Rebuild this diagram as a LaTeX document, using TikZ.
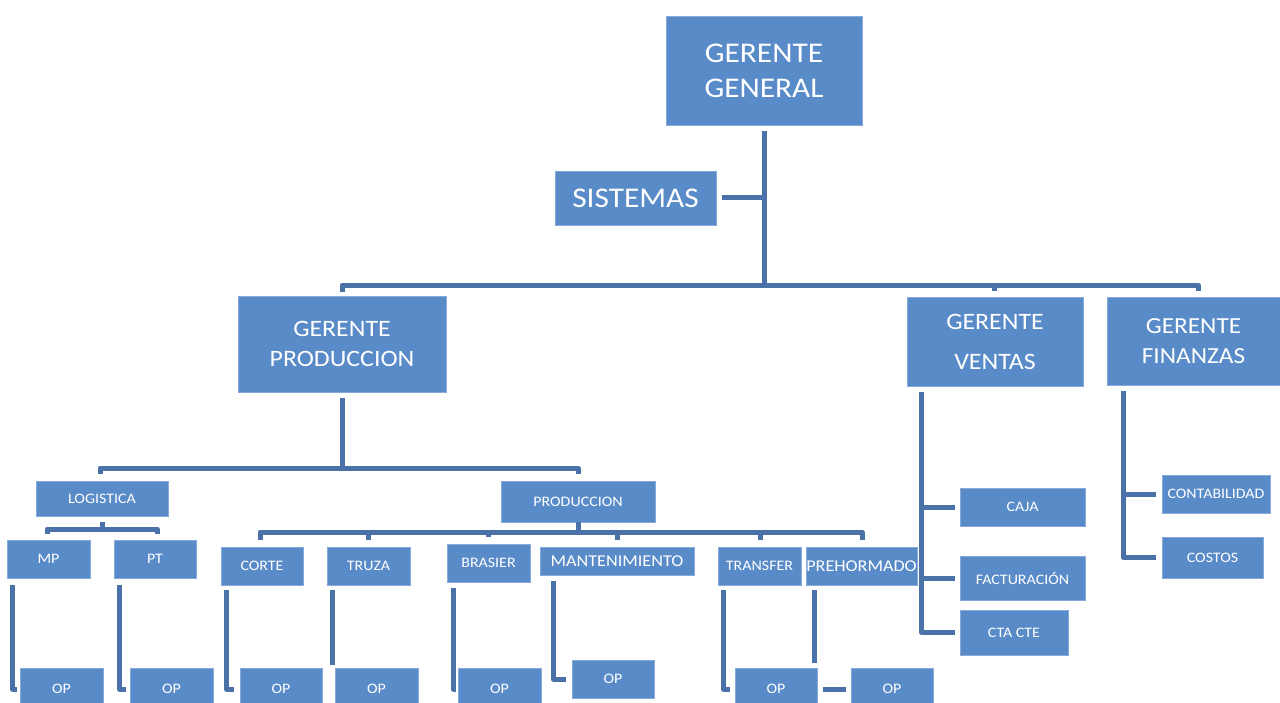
\documentclass[tikz,border=0pt]{standalone}
\usepackage{fontspec}
\setmainfont{Carlito}[FakeStretch=1.1]
\usetikzlibrary{calc}
\definecolor{boxblue}{RGB}{89,139,201}
\definecolor{boxedge}{RGB}{135,170,218}
\definecolor{linkblue}{RGB}{74,114,168}
\tikzset{
  box/.style={rectangle, fill=boxblue, draw=boxedge, line width=0.8pt, text=white, inner sep=0pt, align=center},
  fbig/.style={font=\fontsize{28.5}{35}\selectfont},
  fmid/.style={font=\fontsize{23.5}{30}\selectfont},
  fsml/.style={font=\fontsize{14.5}{17}\selectfont},
  fmed/.style={font=\fontsize{16.5}{19}\selectfont},
  conn/.style={draw=linkblue, line width=5pt},
}
\begin{document}
\begin{tikzpicture}[x=1pt,y=-1pt]
\clip (0,0) rectangle (1280,702);
\fill[white] (0,0) rectangle (1280,702);
% top level
\node[box,fbig,minimum width=196pt,minimum height=109pt] (gg) at (764,70.5) {GERENTE\\GENERAL};
\node[box,fbig,minimum width=161pt,minimum height=54pt] (sis) at (635.5,198) {SISTEMAS};
\node[box,fmid,minimum width=208pt,minimum height=96pt] (gp) at (342,344) {GERENTE\\PRODUCCION};
\node[box,font=\fontsize{23.5}{40}\selectfont,minimum width=176pt,minimum height=89pt] (gv) at (995,341.5) {GERENTE\\VENTAS};
\node[box,font=\fontsize{23}{30}\selectfont,minimum width=173pt,minimum height=88pt] (gf) at (1193.5,341) {GERENTE\\FINANZAS};
% second level
\node[box,fsml,minimum width=132pt,minimum height=35pt] (log) at (102,498.5) {LOGISTICA};
\node[box,fsml,minimum width=154pt,minimum height=41pt] (prod) at (578,501.5) {PRODUCCION};
\node[box,fsml,minimum width=83pt,minimum height=38pt] (mp) at (48.5,559) {MP};
\node[box,fsml,minimum width=82pt,minimum height=38pt] (pt) at (155,559) {PT};
\node[box,fsml,minimum width=82pt,minimum height=38pt] (corte) at (262,566) {CORTE};
\node[box,fsml,minimum width=83pt,minimum height=38pt] (truza) at (368.5,566) {TRUZA};
\node[box,fsml,minimum width=83pt,minimum height=38pt] (brasier) at (488.5,563) {BRASIER};
\node[box,fmed,minimum width=154pt,minimum height=28pt] (mant) at (617,561) {MANTENIMIENTO};
\node[box,fsml,minimum width=83pt,minimum height=38pt] (transfer) at (759.5,566) {TRANSFER};
\node[box,fmed,minimum width=111pt,minimum height=38pt] (preh) at (861.5,566) {PREHORMADO};
\node[box,fsml,minimum width=125pt,minimum height=38pt] (caja) at (1022.5,507) {CAJA};
\node[box,fsml,minimum width=125pt,minimum height=44pt] (fact) at (1022.5,578) {FACTURACIÓN};
\node[box,fsml,minimum width=108pt,minimum height=45pt] (cta) at (1014,632.5) {CTA CTE};
\node[box,fsml,minimum width=108pt,minimum height=38pt] (cont) at (1216,494) {CONTABILIDAD};
\node[box,fsml,minimum width=101pt,minimum height=41pt] (costos) at (1212.5,557.5) {COSTOS};
% OP row
\node[box,fsml,minimum width=83pt,minimum height=42pt] (op1) at (61.5,689) {OP};
\node[box,fsml,minimum width=83pt,minimum height=42pt] (op2) at (171.5,689) {OP};
\node[box,fsml,minimum width=82pt,minimum height=42pt] (op3) at (281,689) {OP};
\node[box,fsml,minimum width=83pt,minimum height=42pt] (op4) at (376.5,689) {OP};
\node[box,fsml,minimum width=83pt,minimum height=42pt] (op5) at (499.5,689) {OP};
\node[box,fsml,minimum width=82pt,minimum height=38pt] (op6) at (613,679) {OP};
\node[box,fsml,minimum width=82pt,minimum height=42pt] (op7) at (776,689) {OP};
\node[box,fsml,minimum width=82pt,minimum height=42pt] (op8) at (892,689) {OP};
% bus coordinates
\coordinate (b1) at (0,285);
\coordinate (b2) at (0,468);
\coordinate (b3) at (0,529);
\coordinate (b4) at (0,532);
% top connectors
\draw[conn] ($(gg.south)+(0,6)$) -- (gg.south |- b1);
\draw[conn] ($(sis.east)+(6,-1)$) -- ($(sis.east -| gg.south)+(0,-1)$);
\draw[conn, line join=round] ($(gp.north)+(0,-4)$) -- (gp.north |- b1) -- ($(gf.north |- b1)+(4.5,0)$) -- ($(gf.north)+(4.5,-6)$);
\draw[conn] ($(gv.north)+(-1,-6)$) -- ($(gv.north |- b1)+(-1,0)$);
% gerente produccion
\draw[conn] ($(gp.south)+(0,6)$) -- (gp.south |- b2);
\draw[conn, line join=round] ($(log.north)+(-2,-7)$) -- ($(log.north |- b2)+(-2,0)$) -- (prod.north |- b2) -- ($(prod.north)+(0,-7)$);
% logistica
\draw[conn] ($(log.south)+(0,6)$) -- (log.south |- b3);
\draw[conn, line join=round] ($(mp.north)+(-1.5,-6)$) -- ($(mp.north |- b3)+(-1.5,0)$) -- ($(pt.north |- b3)+(2,0)$) -- ($(pt.north)+(2,-6)$);
% produccion
\draw[conn] (prod.south) -- (prod.south |- b4);
\draw[conn, line join=round] ($(corte.north)+(-2,-7)$) -- ($(corte.north |- b4)+(-2,0)$) -- ($(preh.north |- b4)+(0.5,0)$) -- ($(preh.north)+(0.5,-7)$);
\draw[conn] ($(truza.north)+(-0.5,-7)$) -- ($(truza.north |- b4)+(-0.5,0)$);
\draw[conn] ($(brasier.north)+(-0.5,-7)$) -- ($(brasier.north |- b4)+(-0.5,0)$);
\draw[conn] ($(mant.north)+(0,-7)$) -- (mant.north |- b4);
\draw[conn] ($(transfer.north)+(0.5,-7)$) -- ($(transfer.north |- b4)+(0.5,0)$);
% drops to OP
\coordinate (d1) at ($(mp.south west)+(6,7)$);
\coordinate (d2) at ($(pt.south west)+(6,7)$);
\coordinate (d3) at ($(corte.south west)+(6,5)$);
\coordinate (d4) at ($(truza.south west)+(6,5)$);
\coordinate (d5) at ($(brasier.south west)+(7,6)$);
\coordinate (d6) at ($(mant.south west)+(14,6)$);
\coordinate (d7) at ($(transfer.south west)+(6,5)$);
\coordinate (d8) at ($(preh.south west)+(9,5)$);
\draw[conn, line join=round] (d1) -- (d1 |- op1.west) -- ($(op1.west)+(-3,0)$);
\draw[conn, line join=round] (d2) -- (d2 |- op2.west) -- ($(op2.west)+(-4,0)$);
\draw[conn, line join=round] (d3) -- (d3 |- op3.west) -- ($(op3.west)+(-6,0)$);
\draw[conn] (d4) -- ($(d4 |- op4.north)+(0,-3)$);
\draw[conn, line join=round] (d5) -- (d5 |- op5.west) -- ($(op5.west)+(-2,0)$);
\draw[conn, line join=round] (d6) -- (d6 |- op6.west) -- ($(op6.west)+(-6,0)$);
\draw[conn, line join=round] (d7) -- (d7 |- op7.west) -- ($(op7.west)+(-5,0)$);
\draw[conn] (d8) -- ($(d8 |- op8.north)+(0,-5)$);
\draw[conn] ($(op7.east)+(6,0)$) -- ($(op8.west)+(-5,0)$);
% ventas
\coordinate (vx) at ($(gv.south west)+(15,6)$);
\draw[conn, line join=round] (vx) -- (vx |- cta.west) -- ($(cta.west)+(-5,0)$);
\draw[conn] (vx |- caja.west) -- ($(caja.west)+(-5,0)$);
\draw[conn] (vx |- fact.west) -- ($(fact.west)+(-5,0)$);
% finanzas
\coordinate (fx) at ($(gf.south west)+(17,6)$);
\draw[conn, line join=round] (fx) -- (fx |- costos.west) -- ($(costos.west)+(-6,0)$);
\draw[conn] (fx |- cont.west) -- ($(cont.west)+(-6,0)$);
\end{tikzpicture}
\end{document}
